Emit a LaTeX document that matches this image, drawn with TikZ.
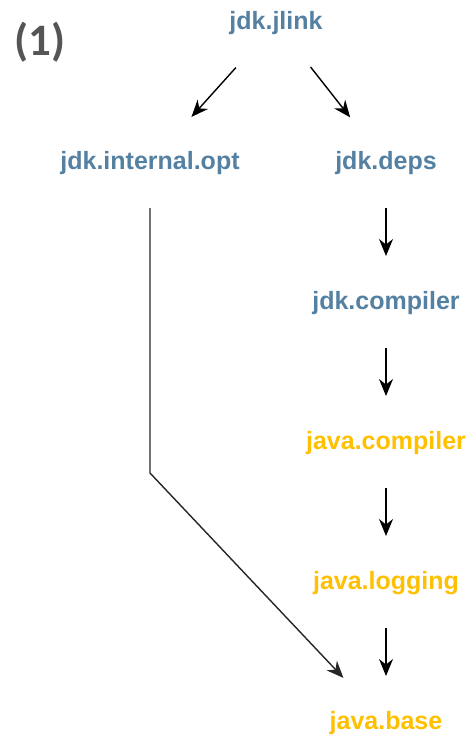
\documentclass[tikz,border=0pt]{standalone}
\usepackage{fontspec}
\setmainfont{Liberation Sans}
\newfontfamily\labelfont{Carlito}
\usetikzlibrary{arrows.meta}
\definecolor{jdkblue}{RGB}{84,128,162}
\definecolor{javagold}{RGB}{255,192,0}
\definecolor{labelgray}{RGB}{85,85,85}
\tikzstyle{jdk} = [inner sep=0pt, text=jdkblue, font=\fontsize{12.5}{15}\selectfont\bfseries]
\tikzstyle{java} = [inner sep=0pt, text=javagold, font=\fontsize{12.5}{15}\selectfont\bfseries]
\tikzstyle{arrow} = [line width=0.7pt,->,>={Stealth[length=8.5pt,width=7pt]}]

\begin{document}
\begin{tikzpicture}[x=0.5pt, y=-0.5pt]
\useasboundingbox (0,0) rectangle (472,739);

%% NODES

\node (num) [text=labelgray, font=\labelfont\fontsize{22.5}{26}\selectfont\bfseries] at (40,42) {(1)};
\node (jlink) [jdk] at (276,23) {jdk.jlink};
\node (opt) [jdk] at (150,163) {jdk.internal.opt};
\node (deps) [jdk] at (386,163) {jdk.deps};
\node (jdkcomp) [jdk] at (386,303) {jdk.compiler};
\node (javacomp) [java] at (386,443) {java.compiler};
\node (logging) [java] at (386,583) {java.logging};
\node (base) [java] at (386,723) {java.base};
\coordinate (bend) at (150,473);

%% ARROWS

\draw [arrow, shorten <=30pt, shorten >=31pt] (jlink.center) -- (opt.center);
\draw [arrow, shorten <=28pt, shorten >=29pt] (jlink.center) -- (deps.center);
\draw [arrow, shorten <=22.5pt, shorten >=23.5pt] (deps.center) -- (jdkcomp.center);
\draw [arrow, shorten <=22.5pt, shorten >=23.5pt] (jdkcomp.center) -- (javacomp.center);
\draw [arrow, shorten <=22.5pt, shorten >=23.5pt] (javacomp.center) -- (logging.center);
\draw [arrow, shorten <=22.5pt, shorten >=23.5pt] (logging.center) -- (base.center);
\draw [arrow, draw=black!85, shorten <=22.5pt, shorten >=31pt] (opt.center) -- (bend) -- (base.center);

\end{tikzpicture}
\end{document}
